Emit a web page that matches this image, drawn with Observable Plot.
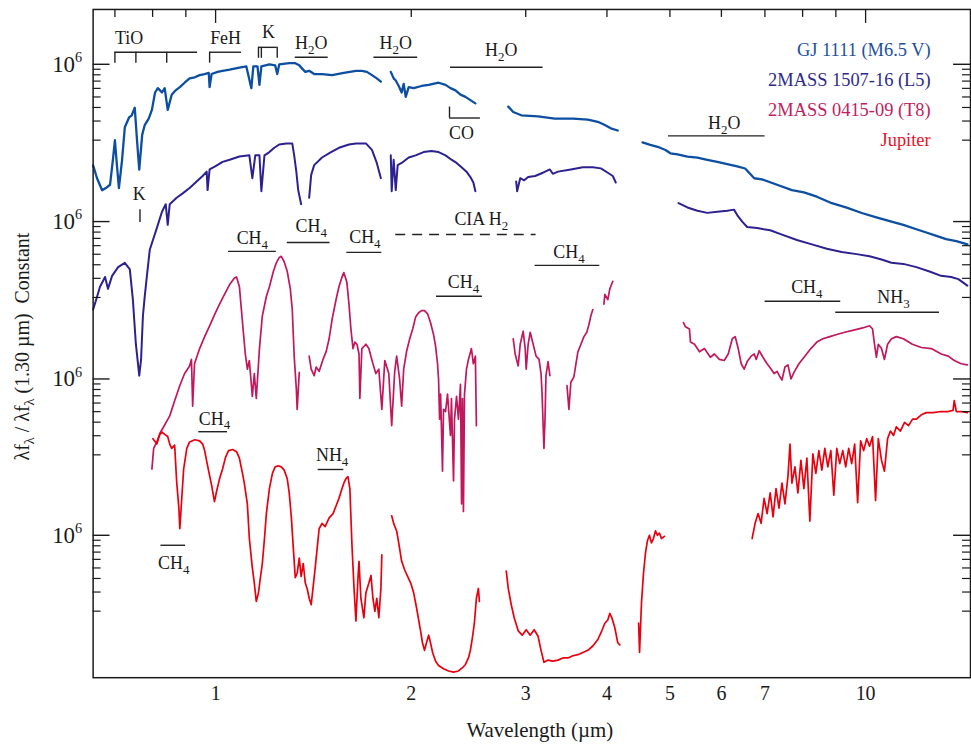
<!DOCTYPE html>
<html><head><meta charset="utf-8">
<script src="https://cdn.jsdelivr.net/npm/d3@7"></script>
<script src="https://cdn.jsdelivr.net/npm/@observablehq/plot@0.6"></script>
<style>html,body{margin:0;padding:0;background:#fff;overflow:hidden}</style>
</head><body><div id="chart"></div>
<script>
// ---- Data: wavelength (µm) and log10 of λfλ relative to each spectrum's own "10^6" tick; null = gap ----
const gjWave = [0.648,0.657,0.669,0.678,0.688,0.695,0.700,0.705,0.710,0.718,0.725,0.736,0.743,0.751,0.757,0.763,0.771,0.778,0.789,0.798,0.807,0.815,0.827,0.835,0.844,0.856,0.868,0.881,0.896,0.912,0.929,0.945,0.962,0.976,0.979,0.986,1.007,1.025,1.051,1.088,1.115,1.135,1.143,1.160,1.168,1.176,1.210,1.235,1.244,1.253,1.298,1.326,1.345,1.359,1.374,1.393,1.418,1.458,1.511,1.575,1.644,1.679,1.709,1.740,1.770,1.796,null,
 1.860,1.879,1.893,1.913,1.933,1.947,1.961,1.982,2.017,2.074,2.127,2.203,2.258,2.298,2.339,2.381,2.423,2.466,2.510,null,
 2.820,2.870,2.953,3.134,3.325,3.546,3.738,3.873,3.970,4.055,4.156,null,
 4.537,4.650,4.786,4.922,5.008,5.135,5.320,5.511,5.708,5.913,6.125,6.346,6.527,6.740,6.926,7.307,7.703,8.036,8.414,8.873,9.352,9.865,10.39,10.96,11.43,11.97,12.40,12.85,13.30,13.79,14.34];
const gjLog = [-0.93,-1.05,-1.16,-1.14,-1.11,-0.88,-0.70,-0.93,-1.14,-0.88,-0.58,-0.49,-0.47,-0.40,-0.70,-0.97,-0.65,-0.56,-0.50,-0.42,-0.26,-0.22,-0.26,-0.22,-0.42,-0.28,-0.24,-0.21,-0.17,-0.13,-0.12,-0.10,-0.09,-0.08,-0.21,-0.09,-0.07,-0.06,-0.05,-0.03,-0.02,-0.22,-0.02,-0.02,-0.19,-0.02,0.00,-0.01,-0.09,0.00,0.01,0.01,-0.01,-0.04,-0.07,-0.06,-0.09,-0.09,-0.10,-0.08,-0.06,-0.06,-0.07,-0.10,-0.13,-0.16,null,
 -0.07,-0.13,-0.15,-0.20,-0.26,-0.18,-0.30,-0.21,-0.22,-0.20,-0.19,-0.17,-0.19,-0.22,-0.24,-0.28,-0.30,-0.33,-0.36,null,
 -0.39,-0.44,-0.47,-0.48,-0.50,-0.50,-0.51,-0.53,-0.56,-0.59,-0.61,null,
 -0.72,-0.74,-0.76,-0.79,-0.82,-0.83,-0.85,-0.86,-0.88,-0.90,-0.92,-0.94,-0.96,-1.05,-1.06,-1.11,-1.16,-1.18,-1.22,-1.28,-1.32,-1.37,-1.41,-1.45,-1.48,-1.52,-1.55,-1.58,-1.61,-1.63,-1.66];

const l5Wave = [0.648,0.655,0.664,0.676,0.683,0.693,0.708,0.725,0.738,0.746,0.754,0.763,0.768,0.773,0.778,0.784,0.792,0.801,0.812,0.827,0.838,0.844,0.850,0.871,0.890,0.912,0.935,0.955,0.969,0.972,0.979,1.000,1.025,1.051,1.088,1.127,1.139,1.151,1.168,1.176,1.189,1.210,1.231,1.253,1.285,1.312,1.321,1.331,1.340,1.354,null,
 1.393,1.403,1.418,1.458,1.505,1.548,1.604,1.644,1.703,1.740,1.770,1.796,null,
 1.860,1.866,1.879,1.893,1.906,1.933,1.982,2.031,2.089,2.148,2.203,2.258,2.306,2.348,2.390,2.432,2.466,2.492,2.510,null,
 2.900,2.910,2.942,2.984,3.026,3.101,3.189,3.268,3.302,3.363,3.520,3.673,3.805,3.915,4.012,4.084,4.127,null,
 5.154,5.320,5.511,5.708,5.913,6.125,6.273,6.346,6.459,6.573,6.809,7.132,7.436,7.840,8.267,8.716,9.189,9.687,10.14,10.58,10.96,11.43,11.97,12.54,13.07,13.54,13.89,14.34];
const l5Log = [-0.81,-0.72,-0.60,-0.51,-0.62,-0.50,-0.42,-0.38,-0.44,-0.72,-1.13,-1.42,-1.27,-0.87,-0.69,-0.50,-0.26,-0.17,-0.06,0.09,0.16,-0.03,0.16,0.22,0.26,0.31,0.37,0.42,0.46,0.29,0.48,0.51,0.55,0.57,0.60,0.61,0.40,0.61,0.61,0.28,0.61,0.64,0.68,0.71,0.72,0.72,0.61,0.46,0.29,0.16,null,
 0.22,0.43,0.52,0.59,0.64,0.68,0.71,0.72,0.72,0.66,0.54,0.40,null,
 0.61,0.28,0.57,0.29,0.52,0.54,0.59,0.61,0.64,0.65,0.64,0.61,0.57,0.54,0.50,0.46,0.41,0.36,0.28,null,
 0.37,0.28,0.40,0.38,0.41,0.42,0.45,0.48,0.44,0.46,0.48,0.50,0.50,0.49,0.45,0.42,0.36,null,
 0.17,0.13,0.10,0.08,0.09,0.10,0.11,0.06,0.00,-0.05,-0.06,-0.08,-0.12,-0.17,-0.21,-0.25,-0.28,-0.30,-0.32,-0.35,-0.38,-0.39,-0.42,-0.46,-0.50,-0.51,-0.53,-0.59];

const t8Wave = [0.798,0.803,0.812,0.821,0.832,0.850,0.865,0.881,0.896,0.912,0.918,0.922,0.928,0.945,0.962,0.979,0.996,1.014,1.032,1.051,1.069,1.077,1.088,1.100,1.111,1.119,1.127,1.139,1.147,1.155,1.168,1.180,1.197,1.210,1.227,1.240,1.253,1.262,1.275,1.289,1.303,1.312,1.321,1.331,1.335,1.345,null,
 1.393,1.403,1.418,1.428,1.443,1.463,1.479,1.495,1.511,1.532,1.548,1.565,1.575,1.592,1.604,1.615,1.627,1.638,1.650,1.662,1.667,1.679,1.703,1.721,1.746,1.764,1.783,1.802,1.821,1.847,1.866,1.886,1.899,1.919,1.933,1.947,1.968,1.989,2.010,2.031,2.053,2.074,2.096,2.119,2.141,2.164,2.180,2.195,2.203,2.211,2.219,2.234,2.242,2.258,2.274,2.298,2.306,2.323,2.331,2.348,2.364,2.381,2.390,2.398,2.406,2.415,2.432,2.449,2.475,2.492,2.510,2.519,null,
 2.870,2.890,2.921,2.942,2.973,2.994,3.005,3.026,3.048,3.080,3.112,3.145,3.167,3.178,3.200,3.212,3.223,3.247,3.268,null,
 3.472,3.496,3.520,3.558,3.584,3.609,3.648,3.687,3.725,3.752,3.778,3.805,null,
 3.957,3.971,4.012,4.041,4.084,null,
 5.245,5.283,5.358,5.377,5.455,5.552,5.650,5.770,5.852,5.956,6.060,6.147,6.236,6.301,6.368,6.436,6.504,6.573,6.667,6.740,6.788,6.860,6.951,7.054,7.158,7.230,7.307,7.384,7.436,7.515,7.595,7.677,7.759,7.896,8.064,8.237,8.414,8.594,8.809,9.029,9.287,9.590,9.899,10.14,10.25,10.32,10.39,10.46,10.58,10.69,10.81,10.96,11.15,11.43,11.80,12.18,12.62,13.07,13.40,13.69,14.03,14.34];
const t8Log = [-0.83,-0.64,-0.58,-0.50,-0.44,-0.34,-0.20,-0.06,0.05,0.12,0.18,-0.25,0.14,0.28,0.39,0.49,0.59,0.69,0.78,0.87,0.93,0.94,0.85,0.52,0.23,0.09,0.17,-0.16,0.05,-0.18,0.28,0.58,0.76,0.85,0.99,1.07,1.12,1.13,1.08,0.99,0.83,0.64,0.21,-0.09,-0.28,0.06,null,
 0.21,0.09,0.03,0.11,0.07,0.18,0.25,0.37,0.55,0.73,0.85,0.94,0.98,0.89,0.69,0.46,0.28,0.34,0.32,0.23,-0.18,0.28,0.32,0.28,0.14,0.05,0.09,-0.28,0.17,0.05,-0.43,0.07,0.21,0.00,-0.25,0.09,0.26,0.37,0.46,0.57,0.61,0.63,0.63,0.60,0.52,0.41,0.30,0.14,0.00,-0.37,-0.14,-0.85,-0.28,-0.30,-0.14,-0.52,-0.18,-0.94,-0.37,-0.16,-0.37,-0.05,-1.15,-0.18,-1.22,-0.14,0.09,0.18,0.28,0.14,0.21,-0.43,null,
 0.37,0.23,0.12,0.32,0.44,0.28,0.09,0.32,0.43,0.32,0.21,0.18,0.05,-0.12,-0.64,-0.37,0.03,0.16,0.03,null,
 -0.06,-0.28,-0.03,0.02,0.14,0.25,0.32,0.39,0.43,0.50,0.58,0.64,null,
 0.69,0.78,0.73,0.83,0.90,null,
 0.52,0.48,0.46,0.34,0.32,0.25,0.28,0.20,0.23,0.18,0.17,0.23,0.37,0.39,0.28,0.14,0.09,0.16,0.21,0.23,0.18,0.26,0.20,0.14,0.09,0.05,0.07,0.02,-0.01,0.11,0.13,0.00,0.06,0.14,0.21,0.28,0.34,0.37,0.39,0.41,0.43,0.45,0.47,0.49,0.46,0.32,0.20,0.32,0.28,0.18,0.32,0.37,0.39,0.37,0.32,0.29,0.28,0.23,0.21,0.17,0.14,0.13];

const jupWave = [0.801,0.812,0.821,0.827,0.835,0.844,0.850,0.856,0.865,0.871,0.878,0.881,0.887,0.893,0.903,0.912,0.929,0.945,0.955,0.962,0.969,0.979,0.986,0.996,1.004,1.014,1.025,1.036,1.047,1.062,1.077,1.088,1.100,1.107,1.119,1.127,1.139,1.147,1.155,1.164,1.172,1.180,1.189,1.197,1.210,1.223,1.235,1.249,1.262,1.275,1.289,1.298,1.308,1.317,1.326,1.335,1.345,1.354,1.364,1.374,1.383,1.393,1.403,1.413,1.423,1.433,1.443,1.458,1.474,1.495,1.516,1.532,1.548,1.565,1.575,1.586,1.598,1.609,1.621,1.633,1.644,1.656,1.662,1.673,1.691,1.703,1.721,1.734,1.746,1.758,1.770,1.783,1.796,1.802,null,
 1.866,1.879,1.899,1.913,1.933,1.954,1.975,1.996,2.017,2.038,2.053,2.067,2.081,2.096,2.111,2.127,2.141,2.157,2.180,2.203,2.242,2.282,2.323,2.364,2.398,2.423,2.449,2.466,2.484,2.501,2.519,2.537,2.546,null,
 2.800,2.820,2.850,2.880,2.921,2.963,3.005,3.048,3.091,3.134,3.167,3.200,3.247,3.302,3.363,3.423,3.484,3.546,3.609,3.673,3.738,3.805,3.873,3.928,3.970,4.012,4.041,4.070,4.113,4.156,4.186,null,
 4.475,4.490,4.521,4.553,4.584,4.617,4.650,4.683,4.716,4.750,4.784,4.817,4.852,4.904,null,
 6.690,6.761,6.833,6.906,6.980,7.054,7.132,7.205,7.281,7.358,7.436,7.515,7.595,7.650,7.703,7.785,7.868,7.952,8.036,8.122,8.208,8.296,8.384,8.474,8.564,8.655,8.747,8.841,8.935,9.029,9.125,9.222,9.320,9.419,9.519,9.620,9.722,9.825,9.930,10.04,10.14,10.25,10.36,10.46,10.58,10.69,10.81,10.92,11.04,11.15,11.31,11.48,11.64,11.81,11.97,12.18,12.40,12.71,13.07,13.40,13.63,13.69,13.79,14.03,14.34];
const jupLog = [0.89,0.84,0.93,0.95,0.93,0.91,0.84,0.80,0.83,0.50,0.25,0.06,0.34,0.61,0.80,0.86,0.88,0.87,0.84,0.78,0.68,0.55,0.46,0.31,0.41,0.52,0.61,0.72,0.78,0.79,0.77,0.71,0.57,0.48,0.29,-0.03,-0.30,-0.44,-0.61,-0.53,-0.39,-0.26,-0.03,0.20,0.43,0.57,0.63,0.64,0.63,0.60,0.52,0.39,0.16,-0.12,-0.39,-0.35,-0.21,-0.38,-0.26,-0.44,-0.49,-0.58,-0.64,-0.47,-0.30,-0.12,0.06,0.11,0.08,0.16,0.20,0.27,0.34,0.43,0.48,0.52,0.54,0.43,-0.09,-0.49,-0.79,-0.39,-0.24,-0.58,-0.76,-0.53,-0.44,-0.37,-0.58,-0.70,-0.58,-0.76,-0.49,-0.18,null,
 0.18,0.11,0.04,-0.07,-0.24,-0.32,-0.38,-0.44,-0.53,-0.67,-0.78,-0.88,-0.99,-1.06,-0.99,-0.92,-0.99,-1.08,-1.16,-1.20,-1.23,-1.25,-1.26,-1.25,-1.22,-1.19,-1.13,-1.06,-0.94,-0.81,-0.58,-0.49,-0.61,null,
 -0.33,-0.49,-0.64,-0.76,-0.88,-0.92,-0.87,-0.92,-0.87,-0.93,-1.06,-1.17,-1.15,-1.16,-1.15,-1.13,-1.13,-1.11,-1.10,-1.08,-1.06,-1.02,-0.96,-0.88,-0.81,-0.78,-0.72,-0.76,-0.85,-0.99,-1.01,null,
 -0.81,-1.08,-0.62,-0.35,-0.17,-0.05,0.00,-0.07,-0.03,0.04,0.00,0.02,-0.03,-0.01,null,
 -0.03,0.11,0.20,0.11,0.34,0.20,0.39,0.17,0.43,0.25,0.48,0.29,0.54,0.84,0.48,0.63,0.39,0.69,0.43,0.71,0.13,0.75,0.57,0.78,0.60,0.80,0.63,0.78,0.37,0.80,0.66,0.78,0.63,0.80,0.66,0.84,0.30,0.87,0.78,0.89,0.82,0.91,0.32,0.89,0.69,0.59,0.89,0.96,0.92,1.00,0.96,1.04,1.01,1.07,1.07,1.11,1.13,1.13,1.14,1.14,1.15,1.24,1.14,1.14,1.13];

// series names, colors, vertical offsets (log10 "Constant")
const seriesNames = ["GJ 1111 (M6.5 V)", "2MASS 1507-16 (L5)", "2MASS 0415-09 (T8)", "Jupiter"];
const seriesColors = ["#0b4ea2", "#2b2190", "#c0175d", "#e8000f"];
const legendColors = ["#1d4f9f", "#2e2a8a", "#c21d5e", "#e8101f"];
const seriesOffset = [4.339, 2.890, 1.440, 0];

// tick values / labels
const xTickLabels = [1, 2, 3, 4, 5, 6, 7, 8, 9, 10];
const xTopMinor = [0.7, 0.8, 0.9, 2, 3, 4, 5, 6, 7, 8, 9];
const xTopMajor = [1, 10];
const minorFactors = [0.2, 0.3, 0.4, 0.5, 0.6, 0.7, 0.8, 0.9];

// feature annotations (wavelength, level in log10 of the y scale)
const annoText  = ["TiO","FeH","K","H_{2}O","H_{2}O","H_{2}O","CO","H_{2}O","K","CH_{4}","CH_{4}","CH_{4}","CIA H_{2}","CH_{4}","CH_{4}","CH_{4}","NH_{3}","CH_{4}","NH_{4}","CH_{4}"];
const annoWave  = [0.736,1.036,1.206,1.403,1.893,2.75,2.390,6.06,0.763,1.139,1.403,1.697,2.563,2.406,3.496,8.12,11.04,0.996,1.511,0.862];
const annoLevel = [4.578,4.578,4.633,4.532,4.532,4.468,3.706,3.798,3.138,2.734,2.844,2.743,2.908,2.330,2.606,2.284,2.193,1.073,0.734,-0.257];
const barFrom  = [0.700,0.979,1.164,1.326,1.752,2.298,2.290,4.975,1.047,1.289,1.592,2.187,3.101,7.004,8.997,0.942,1.438,0.824];
const barTo    = [0.938,1.096,1.244,1.490,2.046,3.190,2.555,7.004,1.240,1.500,1.802,2.573,3.900,9.157,12.99,1.043,1.575,0.899];
const barLevel = [4.450,4.450,4.495,4.404,4.404,4.312,3.844,3.679,2.615,2.697,2.606,2.202,2.486,2.156,2.055,0.954,0.606,-0.092];
const dashFrom = [1.893], dashTo = [3.112], dashLevel = [2.771];
const stemWave   = [0.700,0.754,0.841,0.979,1.164,1.176,1.244,2.290,0.765];
const stemTop    = [4.450,4.450,4.450,4.450,4.495,4.495,4.495,3.945,3.000];
const stemBottom = [4.349,4.349,4.349,4.349,4.394,4.394,4.394,3.844,2.881];

// ---- build tables ----
function rows(wave, logv, off) {
  return wave.map((w, i) => (w == null || logv[i] == null) ? {x: NaN, y: NaN} : {x: w, y: 10 ** (logv[i] + off)});
}
const spectra = [[gjWave, gjLog], [l5Wave, l5Log], [t8Wave, t8Log], [jupWave, jupLog]]
  .map(([w, l], i) => rows(w, l, seriesOffset[i]));
const majorTicks = seriesOffset.map(o => 10 ** o);
const minorTicks = seriesOffset.flatMap(o => minorFactors.map(k => 10 ** o * k));
const P = v => 10 ** v;
const idx = n => d3.range(n);

const W = 975, H = 747, mT = 9, mB = 67, mL = 93, mR = 1;
const FW = W - mL - mR, FH = H - mT - mB;
const ink = "#1a1a1a";
const font = "'Liberation Serif', 'Times New Roman', serif";

const plot = Plot.plot({
  width: W, height: H,
  marginTop: mT, marginBottom: mB, marginLeft: mL, marginRight: mR,
  x: {type: "log", domain: [0.648, 14.5]},
  y: {type: "log", domain: [10 ** -1.312, 10 ** 4.844], axis: null},
  style: {fontFamily: font, background: "white", color: ink, overflow: "visible"},
  marks: [
    // spectra
    ...spectra.map((data, i) => Plot.line(data, {x: "x", y: "y", stroke: seriesColors[i], strokeWidth: i === 0 ? 2.3 : i === 1 ? 2 : 1.7, strokeLinejoin: "round"})),
    // frame and ticks
    Plot.frame({stroke: ink, strokeWidth: 1.5}),
    Plot.ruleX(xTopMinor, {x: d => d, insetBottom: FH - 8, stroke: ink, strokeWidth: 1.3}),
    Plot.ruleX(xTopMajor, {x: d => d, insetBottom: FH - 14, stroke: ink, strokeWidth: 1.3}),
    Plot.ruleY(majorTicks, {y: d => d, insetRight: FW - 17, stroke: ink, strokeWidth: 1.4}),
    Plot.ruleY(minorTicks, {y: d => d, insetRight: FW - 8, stroke: ink, strokeWidth: 1.2}),
    Plot.ruleY(majorTicks, {y: d => d, insetLeft: FW - 17, stroke: ink, strokeWidth: 1.4}),
    Plot.ruleY(minorTicks, {y: d => d, insetLeft: FW - 8, stroke: ink, strokeWidth: 1.2}),
    Plot.text(majorTicks, {y: d => d, frameAnchor: "left", text: () => "10^{6}", textAnchor: "end", lineAnchor: "middle", dx: -11, fontSize: 23, fill: ink}),
    Plot.axisX({anchor: "bottom", ticks: xTickLabels, tickSize: 0, tickPadding: 8, tickFormat: d => String(d), fontSize: 20, label: null, fill: ink}),
    // axis titles
    Plot.text(["Wavelength (µm)"], {frameAnchor: "bottom", text: d => d, lineAnchor: "middle", dy: 53, dx: 8, fontSize: 21, fill: ink}),
    Plot.text(["λf_{λ} / λf_{λ} (1.30 µm)\u00a0\u00a0Constant"], {frameAnchor: "left", text: d => d, rotate: -90, textAnchor: "middle", lineAnchor: "middle", dx: -71, dy: 3, fontSize: 20, fill: ink}),
    // feature annotations
    Plot.ruleY(idx(barFrom.length), {x1: i => barFrom[i], x2: i => barTo[i], y: i => P(barLevel[i]), stroke: "#222", strokeWidth: 1.4}),
    Plot.ruleY(idx(dashFrom.length), {x1: i => dashFrom[i], x2: i => dashTo[i], y: i => P(dashLevel[i]), stroke: "#222", strokeWidth: 1.4, strokeDasharray: "10,7"}),
    Plot.ruleX(idx(stemWave.length), {x: i => stemWave[i], y1: i => P(stemTop[i]), y2: i => P(stemBottom[i]), stroke: "#222", strokeWidth: 1.4}),
    Plot.text(idx(annoText.length), {x: i => annoWave[i], y: i => P(annoLevel[i]), text: i => annoText[i], fontSize: 18, fill: "#1a1a1a", lineAnchor: "middle"}),
    // legend
    ...seriesNames.map((name, i) => Plot.text([name], {frameAnchor: "top-right", text: d => d, textAnchor: "end", lineAnchor: "middle", dx: -40, dy: 41 + 30 * i, fontSize: 18.5, fill: legendColors[i]}))
  ]
});
document.getElementById("chart").appendChild(plot);

// sub/superscript rendering for "_{..}" and "^{..}"
function rich(svg) {
  const NS = "http://www.w3.org/2000/svg";
  for (const t of svg.querySelectorAll("text")) {
    const s = t.textContent;
    if (!/[_^]\{/.test(s)) continue;
    const fs = parseFloat(getComputedStyle(t).fontSize) || 18;
    t.textContent = "";
    const re = /([_^])\{([^}]*)\}|([^_^]+)/g;
    let m, shift = 0;
    while ((m = re.exec(s))) {
      const ts = document.createElementNS(NS, "tspan");
      if (m[3] !== undefined) {
        ts.textContent = m[3];
        if (shift) { ts.setAttribute("dy", -shift); shift = 0; }
      } else {
        const d = m[1] === "_" ? fs * 0.27 : -fs * 0.42;
        ts.textContent = m[2];
        ts.setAttribute("font-size", (fs * (m[1] === "_" ? 0.72 : 0.62)).toFixed(1));
        ts.setAttribute("dy", (d - shift).toFixed(1));
        shift = d;
      }
      t.appendChild(ts);
    }
  }
}
rich(plot);
</script>
</body></html>
